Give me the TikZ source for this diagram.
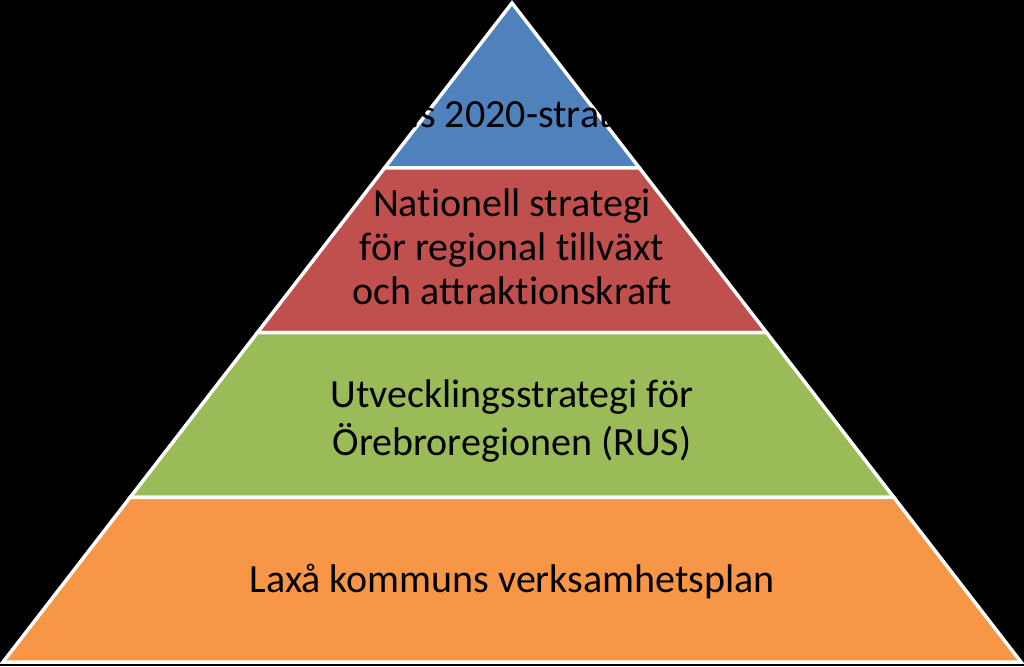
\documentclass[tikz,border=0pt]{standalone}
\usepackage{fontspec}
\setmainfont{Carlito}[Ligatures=CommonOff]
\usetikzlibrary{calc}

\definecolor{euBlue}{HTML}{4F81BD}
\definecolor{natRed}{HTML}{C0504D}
\definecolor{rusGreen}{HTML}{9BBB59}
\definecolor{laxOrange}{HTML}{F79646}

\tikzset{
  layer/.style={draw=white,line width=3.5pt,line join=miter},
  label/.style={align=center,text=black,inner sep=0pt,anchor=base,font=\fontsize{40}{48}\selectfont}
}

\begin{document}
\begin{tikzpicture}[x=1pt,y=-1pt]
    % The background
    \fill[black] (0,0) rectangle (1024,666);
    \useasboundingbox (0,0) rectangle (1024,666);
    \coordinate (apex) at (512,3);
    \coordinate (bl) at (3,662);
    \coordinate (br) at (1021,662);
    % The layers, top to bottom
    \filldraw[layer,fill=euBlue] (apex) -- ($(apex)!0.25!(br)$) -- ($(apex)!0.25!(bl)$) -- cycle;
    \filldraw[layer,fill=natRed] ($(apex)!0.25!(bl)$) -- ($(apex)!0.25!(br)$)
      -- ($(apex)!0.5!(br)$) -- ($(apex)!0.5!(bl)$) -- cycle;
    \filldraw[layer,fill=rusGreen] ($(apex)!0.5!(bl)$) -- ($(apex)!0.5!(br)$)
      -- ($(apex)!0.75!(br)$) -- ($(apex)!0.75!(bl)$) -- cycle;
    \filldraw[layer,fill=laxOrange] ($(apex)!0.75!(bl)$) -- ($(apex)!0.75!(br)$)
      -- (br) -- (bl) -- cycle;
    % The texts (last baselines)
    \node[label] (eu) at (512,128) {EU:s 2020-strategi};
    \node[label,font=\fontsize{40}{44}\selectfont] (nat) at (512,304)
      {Nationell strategi\\för regional tillväxt\\och attraktionskraft};
    \node[label] (rus) at (512,455) {Utvecklingsstrategi för\\Örebroregionen (RUS)};
    \node[label] (lax) at (512,592) {Laxå kommuns verksamhetsplan};
\end{tikzpicture}
\end{document}
